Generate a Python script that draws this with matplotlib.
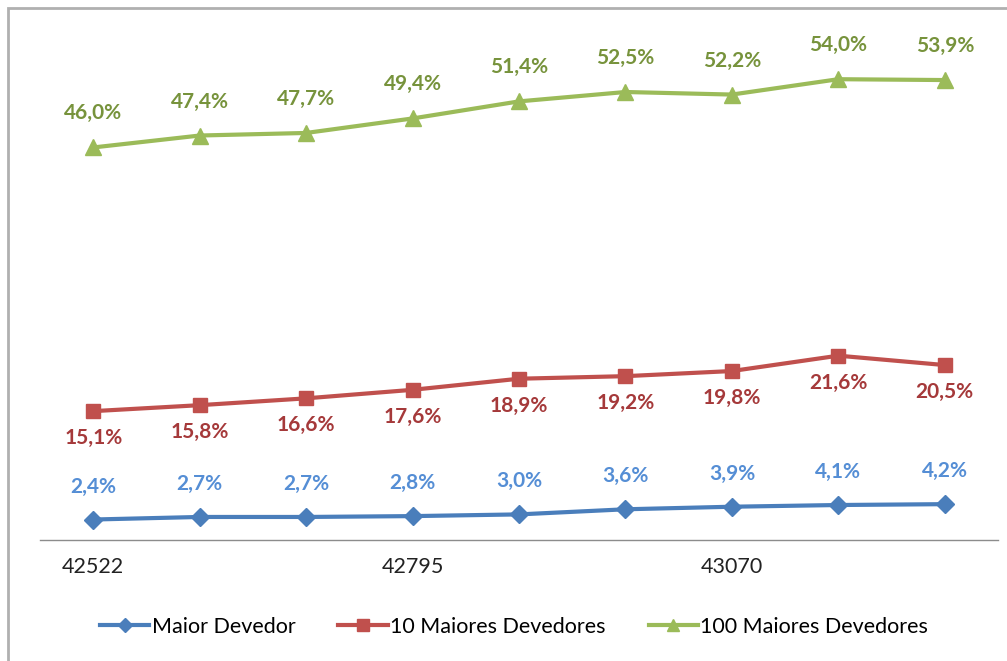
import matplotlib.pyplot as plt
from matplotlib.patches import Rectangle
from matplotlib.lines import Line2D

plt.rcParams['font.family'] = ['Lato', 'DejaVu Sans']

datas = [42522, 42614, 42705, 42795, 42887, 42979, 43070, 43160, 43252]
maior = [2.4, 2.7, 2.7, 2.8, 3.0, 3.6, 3.9, 4.1, 4.2]
top10 = [15.1, 15.8, 16.6, 17.6, 18.9, 19.2, 19.8, 21.6, 20.5]
top100 = [46.0, 47.4, 47.7, 49.4, 51.4, 52.5, 52.2, 54.0, 53.9]
tick_idx = [0, 3, 6]

blue, blue_lbl = "#4A7EBB", "#558ED5"
red, red_lbl = "#C0504D", "#A5393A"
green, green_lbl = "#9BBB59", "#77933C"

W, H = 1007, 661
fig = plt.figure(figsize=(W / 100, H / 100), dpi=100)
ax = fig.add_axes([40 / W, (H - 540) / H, (998 - 40) / W, (540 - 28) / H])

x = list(range(len(datas)))
series = [
    (maior, blue, blue_lbl, "D", 9.5, 33, "Maior Devedor"),
    (top10, red, red_lbl, "s", 10.5, -27, "10 Maiores Devedores"),
    (top100, green, green_lbl, "^", 11.5, 34, "100 Maiores Devedores"),
]
for vals, c, lc, m, ms, off, name in series:
    ax.plot(x, vals, color=c, lw=3, marker=m, ms=ms, label=name, solid_joinstyle="round")
    for xi, v in zip(x, vals):
        ax.annotate(f"{v:.1f}%".replace(".", ","), (xi, v), xytext=(0, off),
                    textcoords="offset pixels", ha="center", va="center",
                    fontsize=15, fontweight="bold", color=lc)

ax.set_xlim(-0.5, len(datas) - 0.5)
ax.set_ylim(0, 60)
ax.set_yticks([])
ax.set_xticks(tick_idx)
ax.set_xticklabels([str(datas[i]) for i in tick_idx], fontsize=15.5, color="#222222")
ax.tick_params(axis="x", length=0, pad=12)
for s in ["top", "right", "left"]:
    ax.spines[s].set_visible(False)
ax.spines["bottom"].set_color("#8C8C8C")
ax.spines["bottom"].set_linewidth(1)

handles = [Line2D([], [], color=c, lw=3, marker=m, ms=ms * 0.8) for _, c, _, m, ms, _, _ in series]
fig.legend(handles, [s[6] for s in series], loc="center", bbox_to_anchor=(514 / W, (H - 627) / H),
           ncol=3, frameon=False, fontsize=15.5, handlelength=2.3, handletextpad=0.1,
           columnspacing=2.0)

fig.patches.append(Rectangle((8 / W, -0.05), 1.1, (H - 8) / H + 0.05, transform=fig.transFigure,
                             fill=False, edgecolor="#B0B0B0", lw=2))

fig.savefig("out.png", dpi=100)
